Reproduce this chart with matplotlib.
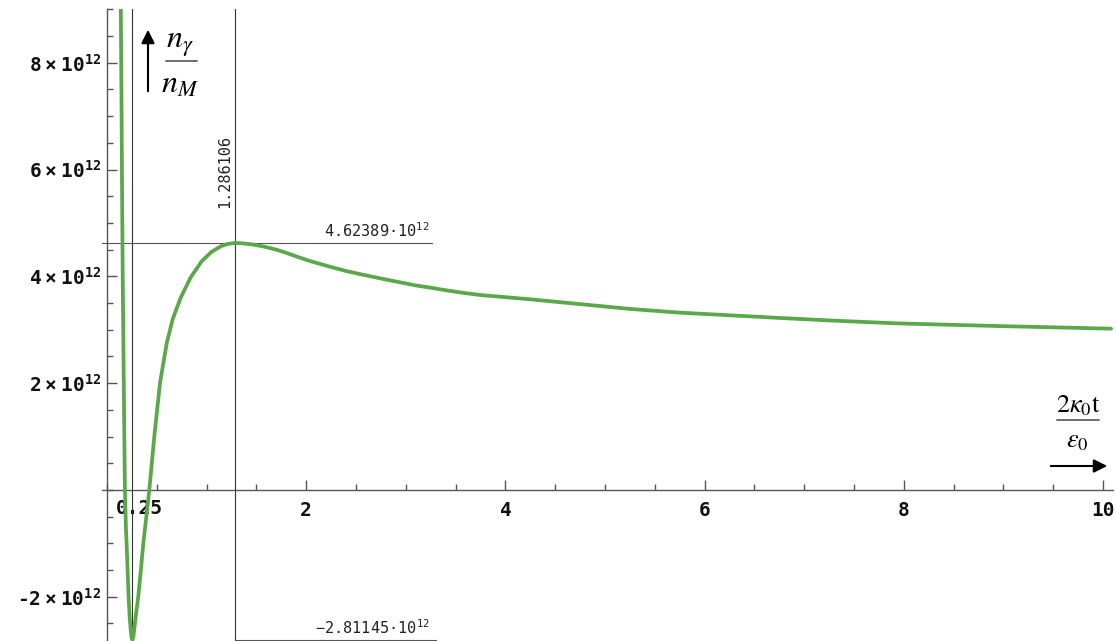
import numpy as np
import matplotlib
matplotlib.use("Agg")
import matplotlib.pyplot as plt
from matplotlib.ticker import FixedLocator, MultipleLocator, FuncFormatter

plt.rcParams['mathtext.fontset'] = 'stix'

# curve: x = 2*kappa0*t/eps0, y = n_gamma/n_M in units of 1e12
tau = [0.138, 0.145, 0.152, 0.158, 0.166, 0.173, 0.180, 0.190, 0.197, 0.207, 0.217,
       0.230, 0.245, 0.255, 0.265, 0.290, 0.314, 0.340, 0.365, 0.395, 0.425, 0.475,
       0.532, 0.600, 0.660, 0.740, 0.840, 0.950, 1.050, 1.150, 1.220, 1.286106, 1.350,
       1.450, 1.570, 1.700, 1.800, 1.905, 2.050, 2.240, 2.400, 2.570, 2.750, 2.910,
       3.100, 3.240, 3.400, 3.580, 3.750, 4.000, 4.250, 4.750, 5.250, 5.750, 6.260,
       6.760, 7.300, 7.920, 8.930, 10.08]
ratio = [9.20, 7.50, 5.50, 4.00, 2.50, 1.20, 0.00, -0.70, -1.00, -1.50, -2.00,
         -2.45, -2.75, -2.81145, -2.75, -2.35, -2.00, -1.50, -1.00, -0.50, 0.00, 1.00,
         2.00, 2.75, 3.20, 3.60, 3.98, 4.28, 4.46, 4.57, 4.61, 4.62389, 4.62,
         4.60, 4.56, 4.50, 4.44, 4.37, 4.28, 4.18, 4.10, 4.03, 3.96, 3.90,
         3.83, 3.79, 3.74, 3.69, 3.65, 3.61, 3.57, 3.48, 3.39, 3.32, 3.27,
         3.22, 3.17, 3.12, 3.07, 3.02]

x_peak, y_peak = 1.286106, 4.62389
y_min = -2.81145
x_mark = 0.25

yticks = [-2, 2, 4, 6, 8]
xticks = [2, 4, 6, 8, 10]

fig = plt.figure(figsize=(11.16, 6.41), dpi=100)
ax = fig.add_axes([102 / 1116, 0.0, 1011 / 1116, 631.6 / 641])

green = '#5aa84a'
ax.plot(tau, np.array(ratio) * 1e12, color=green, linewidth=2.7, solid_capstyle='round',
        solid_joinstyle='round', zorder=3)

ax.set_xlim(-0.05, 10.1)
ax.set_ylim(-2.83e12, 9.0e12)

# mathematica-like axes through the origin
for s in ['top', 'right']:
    ax.spines[s].set_visible(False)
ax.spines['left'].set_position(('data', 0))
ax.spines['bottom'].set_position(('data', 0))
for s in ['left', 'bottom']:
    ax.spines[s].set_color('#555555')
    ax.spines[s].set_linewidth(1.0)

ax.xaxis.set_major_locator(FixedLocator(xticks))
ax.xaxis.set_minor_locator(MultipleLocator(0.5))
ax.yaxis.set_major_locator(FixedLocator([v * 1e12 for v in yticks]))
ax.yaxis.set_minor_locator(MultipleLocator(0.5e12))
ax.yaxis.set_major_formatter(FuncFormatter(
    lambda v, p: r'%d$\;$×$\;$10$^{\mathregular{12}}$' % round(v / 1e12)))

ax.tick_params(axis='both', which='major', direction='in', length=7, width=1.0,
               color='#555555', labelsize=14)
ax.tick_params(axis='both', which='minor', direction='in', length=4, width=1.0,
               color='#555555')
ax.tick_params(axis='x', which='major', pad=8)
ax.tick_params(axis='y', which='major', pad=4)
for lab in ax.get_xticklabels() + ax.get_yticklabels():
    lab.set_family('DejaVu Sans Mono')
    lab.set_fontweight('bold')
    lab.set_color('#111111')

# label at the left guide line
ax.text(0.33, -0.17e12, '0.25', ha='center', va='top', family='DejaVu Sans Mono',
        fontweight='bold', fontsize=14, color='#111111', zorder=1)

# guide lines
ax.axvline(x_mark, color='#333333', linewidth=0.8, zorder=2)
ax.axvline(x_peak, color='#333333', linewidth=0.8, zorder=2)
ax.plot([-0.05, 3.26], [y_peak * 1e12] * 2, color='#555555', linewidth=0.8, zorder=2)
ax.plot([x_peak, 3.30], [y_min * 1e12] * 2, color='#555555', linewidth=0.8, zorder=2)

mono = dict(family='DejaVu Sans Mono', fontsize=11, color='#222222')
ax.text(x_peak - 0.03, 5.28e12, '%.6f' % x_peak, rotation=90, ha='right', va='bottom', **mono)
ax.text(3.24, y_peak * 1e12 + 0.05e12, r'4.62389·$\mathregular{10^{12}}$', ha='right', va='bottom', **mono)
ax.text(3.24, y_min * 1e12 + 0.05e12, r'−2.81145·$\mathregular{10^{12}}$', ha='right', va='bottom', **mono)

# axis captions with arrows (figure pixels, origin bottom-left)
H = 641
fp = 'figure pixels'
ax.annotate('', xy=(148, H - 27), xytext=(148, H - 94), xycoords=fp, textcoords=fp,
            arrowprops=dict(arrowstyle='-|>', color='black', lw=1.5, mutation_scale=20))
ax.annotate(r'$n_\gamma$', xy=(180, H - 44), xycoords=fp, ha='center', va='center', fontsize=23)
ax.annotate('', xy=(200, H - 61), xytext=(163, H - 61), xycoords=fp, textcoords=fp,
            arrowprops=dict(arrowstyle='-', color='#333333', lw=1.0))
ax.annotate(r'$n_M$', xy=(180, H - 84), xycoords=fp, ha='center', va='center', fontsize=23)

ax.annotate(r'$2\kappa_0\mathrm{t}$', xy=(1078, H - 405), xycoords=fp, ha='center', va='center', fontsize=19)
ax.annotate('', xy=(1102, H - 420), xytext=(1054, H - 420), xycoords=fp, textcoords=fp,
            arrowprops=dict(arrowstyle='-', color='#333333', lw=1.0))
ax.annotate(r'$\varepsilon_0$', xy=(1077, H - 440), xycoords=fp, ha='center', va='center', fontsize=19)
ax.annotate('', xy=(1110, H - 466), xytext=(1048, H - 466), xycoords=fp, textcoords=fp,
            arrowprops=dict(arrowstyle='-|>', color='black', lw=1.5, mutation_scale=20))

fig.savefig('out.png', dpi=100)
